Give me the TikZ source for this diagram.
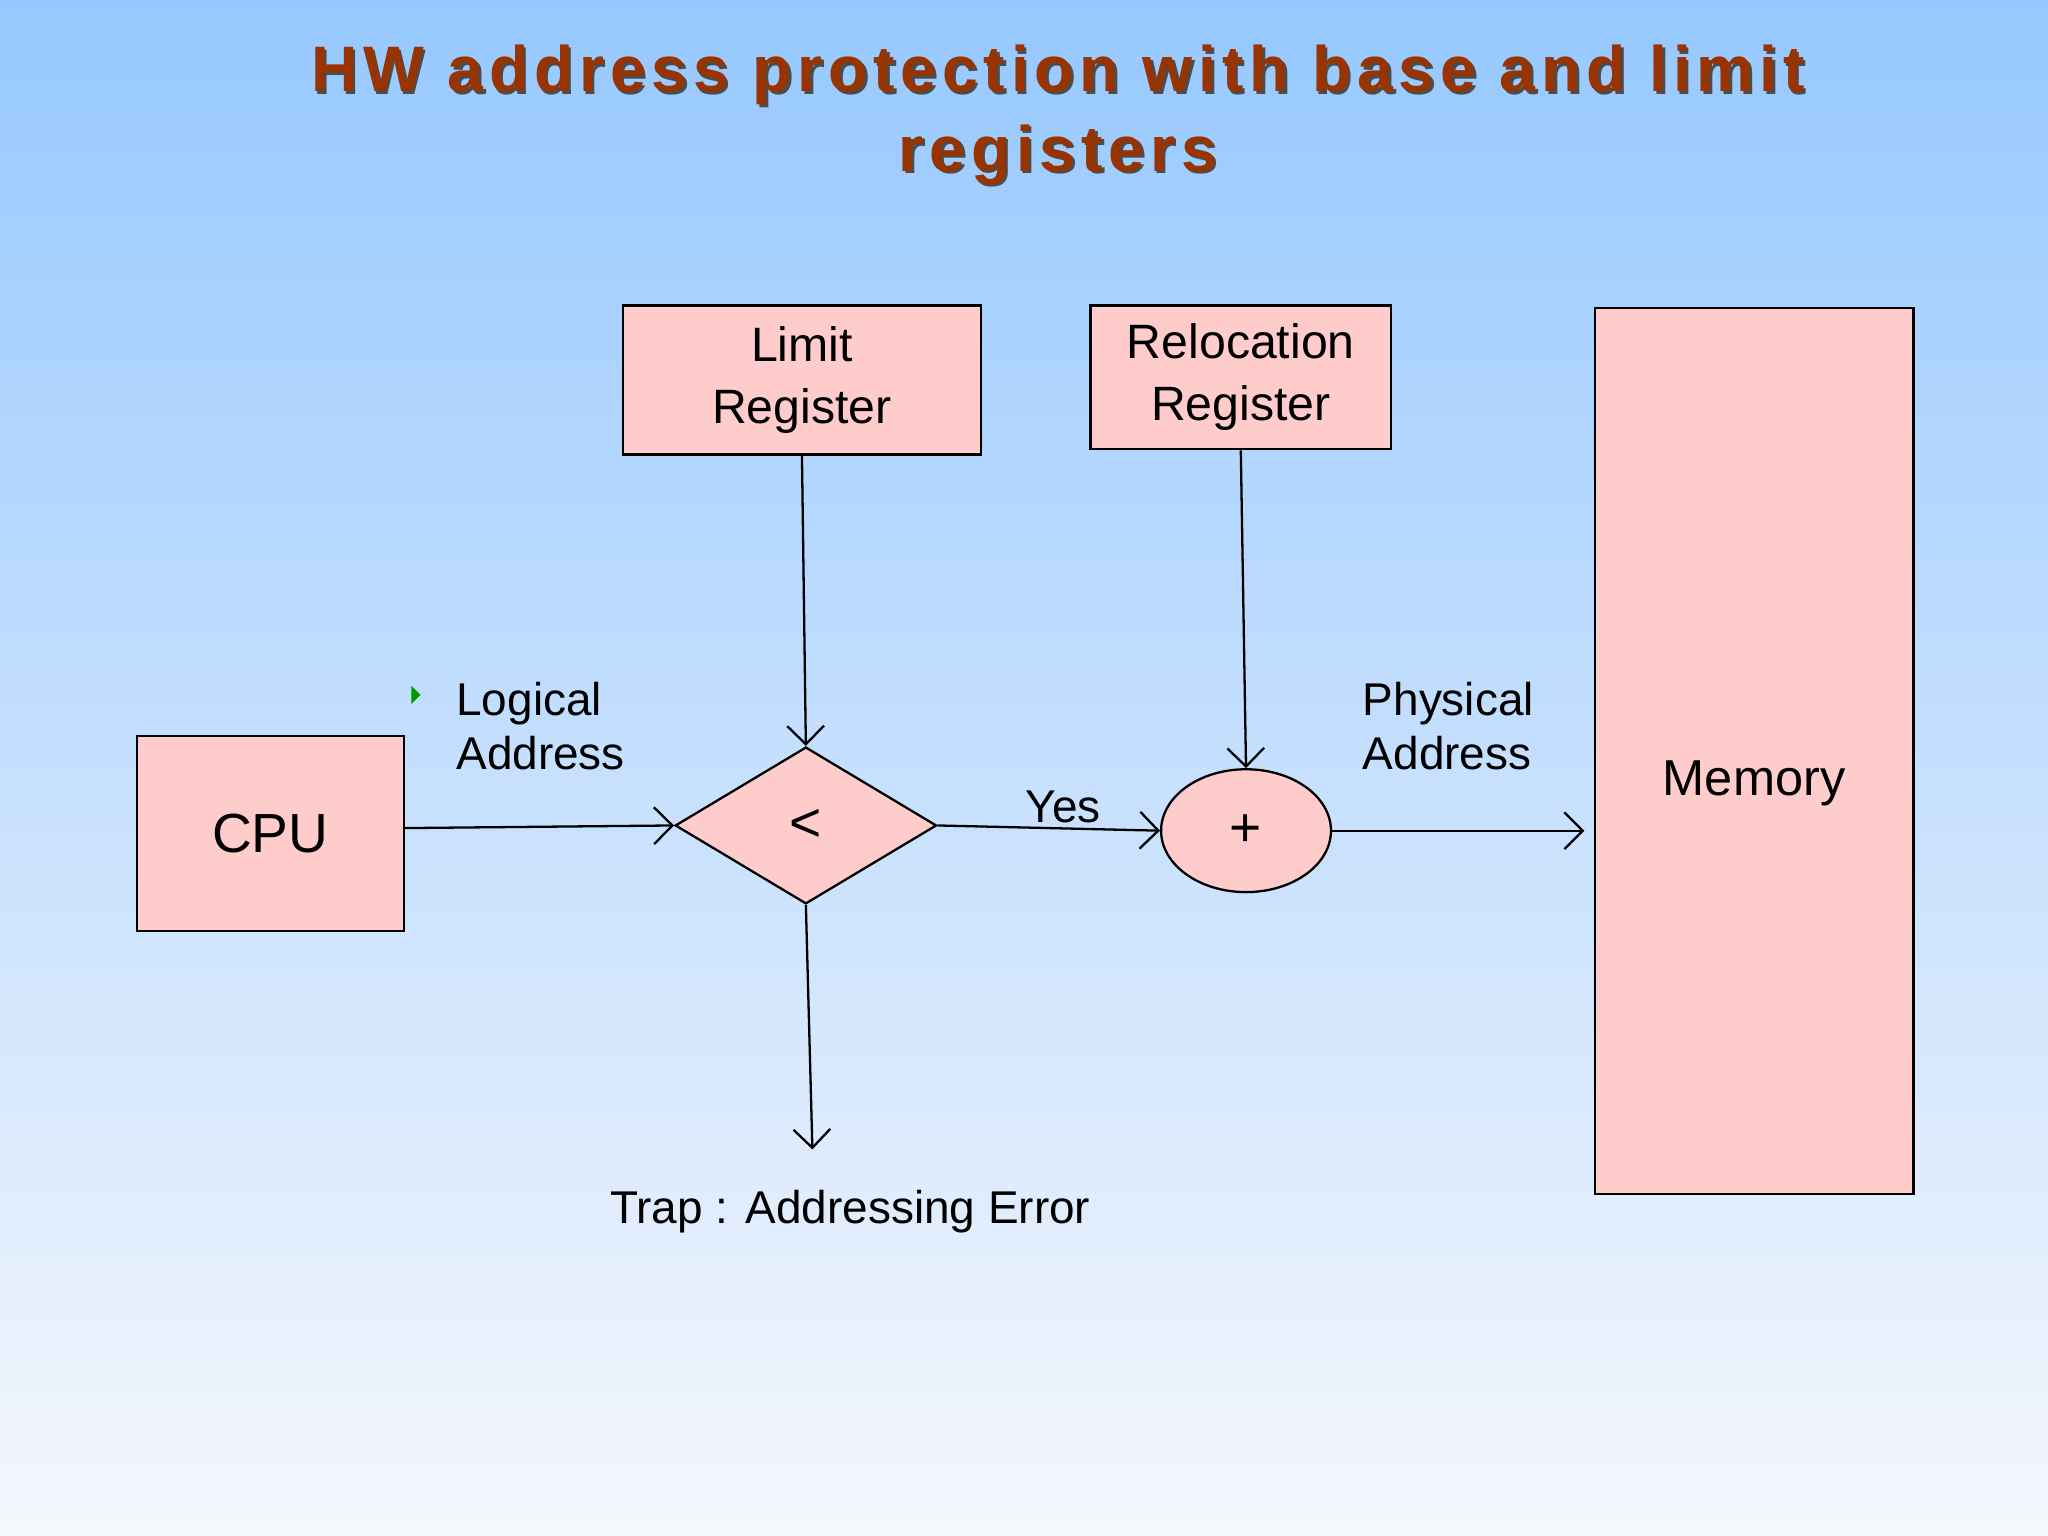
\documentclass[tikz,border=0pt]{standalone}
\usepackage{fontspec}
\setmainfont{Liberation Sans}
\usetikzlibrary{shapes.geometric, arrows.meta}
\definecolor{boxfill}{RGB}{255,204,204}
\definecolor{titlered}{RGB}{153,51,0}
\begin{document}
\begin{tikzpicture}
	  [
	    x = 0.01cm, y = -0.01cm,
	    box/.style     = {draw, fill=boxfill, line width=0.5pt, inner sep=0pt, font=\fontsize{10.5}{13.5}\selectfont, align=center},
	    arrow/.style   = {draw, line width=0.5pt, -{Straight Barb[length=4pt,width=8pt]}},
	    label/.style   = {font=\fontsize{10}{11.8}\selectfont, align=left},
	    title/.style   = {font=\fontsize{14}{17.3}\selectfont\bfseries\addfontfeature{LetterSpace=9}, align=center}
		]
	  % background
	  \shade[top color={rgb,255:red,150;green,200;blue,255}, bottom color={rgb,255:red,245;green,247;blue,252}]
	    (0,0) rectangle (1568,1176);
	  \useasboundingbox (0,0) rectangle (1568,1176);
	  % title
	  \node [title, text=black!70] at (812,90)
	    {HW address protection with base and limit\\registers};
	  \node [title, text=titlered] (title) at (810,88)
	    {HW address protection with base and limit\\registers};
	  % boxes
	  \node [box, minimum width=2.74cm, minimum height=1.14cm] (limit) at (614,291) {Limit\\Register};
	  \node [box, minimum width=2.30cm, minimum height=1.10cm] (reloc) at (950,289) {Relocation\\Register};
	  \node [box, minimum width=2.04cm, minimum height=1.49cm, font=\fontsize{12}{14}\selectfont] (cpu) at (207,638) {CPU};
	  \draw [fill=boxfill, line width=0.5pt] (1221,236) rectangle (1465,914);
	  \node [font=\fontsize{11}{13}\selectfont] (memory) at (1343,600) {Memory};
	  \node [box, diamond, aspect=1.67, minimum width=2.0cm, minimum height=1.2cm, font=\fontsize{12}{14}\selectfont] (cmp) at (617,632) {<};
	  \node [box, ellipse, minimum width=1.30cm, minimum height=0.94cm, font=\fontsize{12}{14}\selectfont] (add) at (954,636) {+};
	  % free ends
	  \coordinate (memin) at (1213,636);
	  \coordinate (trapend) at (622,880);
	  % connectors
	  \draw [arrow] (cpu.east |- 0,634) -- (cmp.west);
	  \draw [arrow] (limit.south) -- (cmp.north);
	  \draw [arrow] (cmp.east) -- (add.west);
	  \draw [arrow] (reloc.south) -- (add.north);
	  \draw [arrow] (add.east) -- (memin);
	  \draw [arrow] (cmp.south) -- (trapend);
	  % labels
	  \fill [green!60!black] (315,525) -- (322,532) -- (315,539) -- cycle;
	  \node [label, anchor=west] (logical) at (337,556) {Logical\\Address};
	  \node [label, anchor=west] (physical) at (1031,556) {Physical\\Address};
	  \node [label] (yes) at (814,618) {Yes};
	  \node [label] (trap) at (651,928) {Trap : Addressing Error};
	\end{tikzpicture}
\end{document}
